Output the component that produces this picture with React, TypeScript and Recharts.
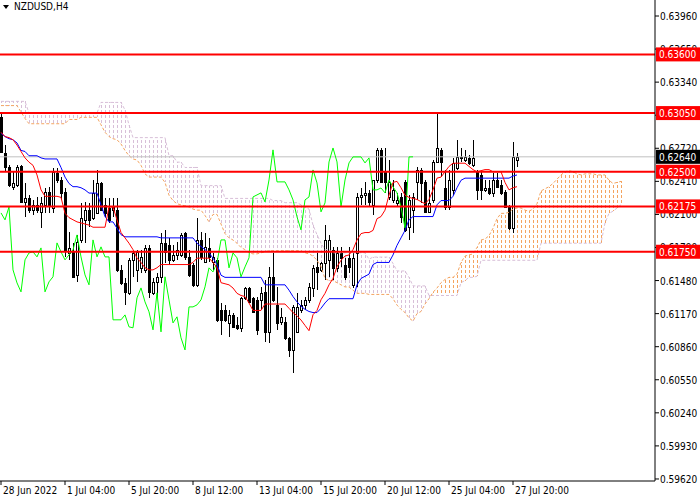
import React from 'react';
import { ComposedChart, Bar, Line, XAxis, YAxis, ReferenceLine } from 'recharts';

// NZDUSD H4 candles, oldest first
const opens = [
  0.63014, 0.62676, 0.62545, 0.62358, 0.62377, 0.62555, 0.62217, 0.62255, 0.62142, 0.62189,
  0.62124, 0.62189, 0.62311, 0.62161, 0.62489, 0.62423, 0.62311, 0.61739, 0.61749, 0.61533,
  0.61861, 0.62049, 0.62142, 0.62067, 0.62114, 0.62395, 0.62189, 0.62161, 0.62142, 0.62142,
  0.6158, 0.61458, 0.61365, 0.61674, 0.6158, 0.61599, 0.6158, 0.61786, 0.61365, 0.61468,
  0.61515, 0.61833, 0.61814, 0.61674, 0.61721, 0.61721, 0.61927, 0.61702, 0.61627, 0.6144,
  0.61861, 0.61655, 0.61786, 0.61655, 0.61674, 0.61205, 0.61205, 0.61083, 0.61158, 0.61065,
  0.61037, 0.61318, 0.61411, 0.61318, 0.61299, 0.61299, 0.61374, 0.60999, 0.61515, 0.61252,
  0.61093, 0.61093, 0.60943, 0.6083, 0.60999, 0.61205, 0.61252, 0.61299, 0.61411, 0.61608,
  0.6158, 0.61646, 0.61674, 0.61768, 0.61599, 0.61739, 0.61627, 0.61693, 0.6144, 0.61739,
  0.62264, 0.62283, 0.62302, 0.62189, 0.62423, 0.62705, 0.62498, 0.62264, 0.62236, 0.62208,
  0.62264, 0.62405, 0.61983, 0.62142, 0.62405, 0.62517, 0.62405, 0.62124, 0.62236, 0.62592,
  0.62705, 0.62348, 0.6217, 0.6233, 0.62536, 0.6263, 0.62611, 0.6263, 0.62564, 0.62498,
  0.6247, 0.6233, 0.62348, 0.62302, 0.62423, 0.62377, 0.62311, 0.6217, 0.61974, 0.62611,
];
const highs = [
  0.63051, 0.62751, 0.62564, 0.62498, 0.62564, 0.62564, 0.62395, 0.62283, 0.62236, 0.62264,
  0.62264, 0.62348, 0.62358, 0.62536, 0.62536, 0.62452, 0.62348, 0.61936, 0.61833, 0.61908,
  0.62208, 0.62217, 0.62208, 0.62423, 0.62517, 0.62405, 0.62255, 0.62255, 0.62255, 0.62255,
  0.61627, 0.61505, 0.61693, 0.61749, 0.61768, 0.61768, 0.61814, 0.61814, 0.61505, 0.61552,
  0.61927, 0.61955, 0.6188, 0.61814, 0.61843, 0.61927, 0.61936, 0.61768, 0.61646, 0.62067,
  0.61936, 0.61927, 0.6188, 0.61739, 0.61693, 0.61271, 0.61252, 0.61205, 0.61177, 0.6114,
  0.61327, 0.61421, 0.61421, 0.61327, 0.61327, 0.61421, 0.61486, 0.61608, 0.61739, 0.61421,
  0.61224, 0.6114, 0.60952, 0.61252, 0.61365, 0.61299, 0.61327, 0.61458, 0.61627, 0.61739,
  0.61655, 0.62002, 0.61908, 0.61796, 0.61796, 0.61796, 0.61693, 0.61796, 0.61739, 0.62302,
  0.62348, 0.62405, 0.6233, 0.62423, 0.62723, 0.62723, 0.62723, 0.62611, 0.62423, 0.62302,
  0.62302, 0.62423, 0.62283, 0.62302, 0.62545, 0.62536, 0.62423, 0.6233, 0.62611, 0.63051,
  0.62723, 0.62517, 0.62517, 0.6263, 0.62798, 0.62723, 0.62705, 0.62658, 0.62798, 0.62517,
  0.62498, 0.62423, 0.62423, 0.62489, 0.62489, 0.62423, 0.6233, 0.62189, 0.62779, 0.62676,
];
const lows = [
  0.62676, 0.62498, 0.62358, 0.6233, 0.62358, 0.62208, 0.62077, 0.62114, 0.62095, 0.62114,
  0.61974, 0.62114, 0.62114, 0.62114, 0.62395, 0.62236, 0.61702, 0.61674, 0.61505, 0.61468,
  0.61833, 0.61833, 0.61983, 0.62049, 0.62114, 0.62142, 0.62077, 0.62021, 0.62077, 0.61561,
  0.6144, 0.61252, 0.61346, 0.61515, 0.61468, 0.61552, 0.61552, 0.61318, 0.61346, 0.61327,
  0.61458, 0.61646, 0.61627, 0.61655, 0.61674, 0.61702, 0.61674, 0.61515, 0.61421, 0.61421,
  0.61674, 0.61646, 0.61655, 0.6158, 0.61093, 0.60971, 0.61093, 0.60952, 0.61037, 0.61018,
  0.60999, 0.61299, 0.61271, 0.61177, 0.60971, 0.61205, 0.60905, 0.60896, 0.6128, 0.61018,
  0.61065, 0.60924, 0.60765, 0.60615, 0.6099, 0.61177, 0.61205, 0.61271, 0.61327, 0.61393,
  0.61561, 0.61486, 0.61515, 0.61486, 0.61561, 0.61608, 0.61486, 0.61552, 0.61411, 0.61421,
  0.62189, 0.62189, 0.6217, 0.62095, 0.62395, 0.62395, 0.62302, 0.62236, 0.62208, 0.6217,
  0.62021, 0.61936, 0.61861, 0.61927, 0.62236, 0.62208, 0.62114, 0.62114, 0.62208, 0.62583,
  0.62452, 0.62142, 0.62142, 0.62283, 0.62517, 0.62592, 0.62592, 0.62564, 0.62545, 0.62236,
  0.62236, 0.62311, 0.62283, 0.62264, 0.62348, 0.62283, 0.62161, 0.61955, 0.61927, 0.62545,
];
const closes = [
  0.62686, 0.62545, 0.62377, 0.62395, 0.62545, 0.62217, 0.62255, 0.62142, 0.62189, 0.62142,
  0.62208, 0.62311, 0.62189, 0.62498, 0.62423, 0.62302, 0.61768, 0.61786, 0.61515, 0.61843,
  0.62067, 0.62142, 0.62049, 0.62302, 0.62395, 0.62142, 0.62114, 0.62049, 0.6217, 0.6158,
  0.61458, 0.61374, 0.61674, 0.61739, 0.61749, 0.61702, 0.61786, 0.61374, 0.61468, 0.61515,
  0.61833, 0.61749, 0.61674, 0.61721, 0.61768, 0.61908, 0.61702, 0.61533, 0.6144, 0.61861,
  0.61702, 0.61796, 0.61702, 0.61702, 0.61112, 0.61112, 0.61112, 0.61158, 0.61046, 0.61037,
  0.61318, 0.61411, 0.6128, 0.61187, 0.61018, 0.61365, 0.60999, 0.61515, 0.61299, 0.61083,
  0.6114, 0.60943, 0.6083, 0.61233, 0.61233, 0.61252, 0.61299, 0.61421, 0.61599, 0.61561,
  0.61646, 0.61861, 0.61861, 0.61599, 0.61739, 0.61693, 0.61515, 0.61608, 0.61693, 0.62264,
  0.62283, 0.62302, 0.62217, 0.62423, 0.62705, 0.62405, 0.62405, 0.62405, 0.6233, 0.62236,
  0.62077, 0.61955, 0.62236, 0.62264, 0.62517, 0.62395, 0.62124, 0.62208, 0.62592, 0.62723,
  0.62592, 0.6217, 0.62423, 0.62583, 0.62639, 0.62639, 0.62639, 0.62583, 0.6263, 0.6233,
  0.6233, 0.62348, 0.62302, 0.62423, 0.62358, 0.62302, 0.6217, 0.61974, 0.62639, 0.6264,
];

// Ichimoku lines
const tenkan = [
  0.6287, 0.6283, 0.6282, 0.628, 0.6275, 0.6269, 0.6263, 0.6259, 0.6256, 0.6247,
  0.6233, 0.6227, 0.6227, 0.6227, 0.6227, 0.6226, 0.6211, 0.6207, 0.6205, 0.6203,
  0.6202, 0.6201, 0.62, 0.6198, 0.6198, 0.6198, 0.6198, 0.6217, 0.6217, 0.6205,
  0.6193, 0.6188, 0.6183, 0.6177, 0.6169, 0.6165, 0.616, 0.6158, 0.6158, 0.616,
  0.6163, 0.6163, 0.6163, 0.6163, 0.6163, 0.6163, 0.6163, 0.6163, 0.6165, 0.6169,
  0.6169, 0.6169, 0.6169, 0.6165, 0.616, 0.6146, 0.6145, 0.6144, 0.6141, 0.6136,
  0.6134, 0.6133, 0.6127, 0.612, 0.612, 0.612, 0.6126, 0.6126, 0.6126, 0.6126,
  0.6126, 0.6126, 0.6122, 0.6118, 0.6115, 0.6111, 0.6106, 0.6101, 0.6116, 0.612,
  0.613, 0.6136, 0.6144, 0.615, 0.6161, 0.6167, 0.6171, 0.6172, 0.6177, 0.6186,
  0.6192, 0.6193, 0.6193, 0.6195, 0.6206, 0.6208, 0.6214, 0.6228, 0.624, 0.6241,
  0.6235, 0.6228, 0.6226, 0.6225, 0.6224, 0.6222, 0.622, 0.6224, 0.6233, 0.6244,
  0.6245, 0.625, 0.6255, 0.6258, 0.6258, 0.6258, 0.6258, 0.6255, 0.6252, 0.625,
  0.6251, 0.6252, 0.6252, 0.625, 0.625, 0.625, 0.624, 0.6233, 0.6235, 0.6236,
];
const kijun = [
  0.6286, 0.6283, 0.6281, 0.628, 0.6277, 0.627, 0.6269, 0.6265, 0.6265, 0.6265,
  0.6263, 0.6262, 0.6262, 0.6262, 0.6262, 0.6254, 0.6245, 0.6239, 0.6236, 0.6236,
  0.6235, 0.6233, 0.623, 0.623, 0.623, 0.6219, 0.6208, 0.6203, 0.6203, 0.6197,
  0.6191, 0.6189, 0.6189, 0.6189, 0.6189, 0.6189, 0.6189, 0.6189, 0.6189, 0.6189,
  0.6188, 0.6188, 0.6188, 0.6188, 0.6188, 0.6188, 0.6188, 0.6188, 0.6188, 0.6183,
  0.618, 0.6177, 0.6174, 0.6169, 0.6163, 0.6153, 0.6151, 0.6151, 0.6151, 0.6151,
  0.6151, 0.6151, 0.6151, 0.6151, 0.6151, 0.6151, 0.6144, 0.6144, 0.6144, 0.6144,
  0.6144, 0.6144, 0.6139, 0.6133, 0.6128, 0.6124, 0.6121, 0.6119, 0.6118, 0.6118,
  0.6122, 0.6127, 0.6131, 0.6131, 0.6131, 0.6131, 0.6131, 0.6131, 0.6131, 0.6144,
  0.615, 0.6152, 0.6154, 0.6163, 0.6165, 0.6165, 0.6165, 0.6165, 0.6172, 0.6181,
  0.6188, 0.6195, 0.6205, 0.6208, 0.6208, 0.6208, 0.6208, 0.6208, 0.6208, 0.6219,
  0.6223, 0.6223, 0.6223, 0.6227, 0.6235, 0.6242, 0.6244, 0.6244, 0.6244, 0.6244,
  0.6244, 0.6244, 0.6244, 0.6244, 0.6244, 0.6244, 0.6244, 0.6244, 0.6246, 0.6247,
];
// Senkou spans run 26 bars past the last candle
const spanA = [
  0.6312, 0.6312, 0.6312, 0.6312, 0.6312, 0.6306, 0.63, 0.6295, 0.6295, 0.6295,
  0.6295, 0.6295, 0.6295, 0.6295, 0.6295, 0.6295, 0.6295, 0.6299, 0.6299, 0.6299,
  0.6301, 0.6301, 0.6301, 0.6301, 0.6301, 0.6294, 0.6287, 0.6283, 0.6281, 0.628,
  0.6276, 0.627, 0.6265, 0.6262, 0.6261, 0.6256, 0.6248, 0.6245, 0.6245, 0.6245,
  0.6245, 0.624, 0.6228, 0.6223, 0.622, 0.6219, 0.6218, 0.6217, 0.6215, 0.6214,
  0.6214, 0.6209, 0.6203, 0.621, 0.621, 0.6201, 0.6192, 0.6188, 0.6186, 0.6183,
  0.6179, 0.6177, 0.6174, 0.6173, 0.6173, 0.6174, 0.6175, 0.6176, 0.6176, 0.6176,
  0.6176, 0.6176, 0.6176, 0.6176, 0.6176, 0.6176, 0.6174, 0.6173, 0.6171, 0.6167,
  0.6161, 0.615, 0.6148, 0.6148, 0.6146, 0.6144, 0.6142, 0.6142, 0.6139, 0.6136,
  0.6136, 0.6136, 0.6135, 0.6135, 0.6135, 0.6135, 0.6135, 0.6135, 0.6131, 0.6125,
  0.6121, 0.6118, 0.6113, 0.611, 0.6117, 0.6119, 0.6126, 0.6131, 0.6137, 0.6141,
  0.6146, 0.6149, 0.6151, 0.6151, 0.6154, 0.6165, 0.6171, 0.6172, 0.6173, 0.6179,
  0.6186, 0.6187, 0.619, 0.6197, 0.6206, 0.6211, 0.6211, 0.6212, 0.6215, 0.6216,
  0.6216, 0.6214, 0.6213, 0.6215, 0.622, 0.6232, 0.6234, 0.6236, 0.6239, 0.6243,
  0.6247, 0.625, 0.6251, 0.625, 0.6248, 0.6247, 0.6248, 0.6248, 0.6248, 0.6247,
  0.6247, 0.6247, 0.6242, 0.6239, 0.624, 0.6241,
];
const spanB = [
  0.6316, 0.6316, 0.6316, 0.6316, 0.6316, 0.6316, 0.6316, 0.6305, 0.6305, 0.6305,
  0.6305, 0.6305, 0.6305, 0.6305, 0.6305, 0.6305, 0.6305, 0.6305, 0.6305, 0.6305,
  0.6305, 0.6305, 0.6305, 0.6305, 0.6305, 0.6315, 0.6315, 0.6315, 0.6315, 0.6315,
  0.6315, 0.6308, 0.6294, 0.6282, 0.6282, 0.6282, 0.6282, 0.6282, 0.6282, 0.6282,
  0.6282, 0.6282, 0.6265, 0.6265, 0.6259, 0.6259, 0.6254, 0.6254, 0.6254, 0.6254,
  0.6237, 0.6237, 0.6237, 0.6237, 0.6237, 0.6237, 0.6225, 0.6225, 0.6225, 0.6225,
  0.6225, 0.6225, 0.6225, 0.6225, 0.6225, 0.6225, 0.6225, 0.6225, 0.6223, 0.6223,
  0.6223, 0.6221, 0.6221, 0.6221, 0.6221, 0.6219, 0.6217, 0.6215, 0.62, 0.6191,
  0.6183, 0.6177, 0.6177, 0.6174, 0.6174, 0.6174, 0.6174, 0.6174, 0.6174, 0.6174,
  0.6174, 0.6174, 0.6168, 0.617, 0.617, 0.617, 0.617, 0.617, 0.6164, 0.6157,
  0.6157, 0.6157, 0.6151, 0.6143, 0.6143, 0.6143, 0.6143, 0.6134, 0.6134, 0.6134,
  0.6134, 0.6134, 0.6134, 0.6134, 0.6134, 0.6146, 0.6148, 0.6151, 0.6151, 0.6152,
  0.6167, 0.6167, 0.6167, 0.6167, 0.6167, 0.6167, 0.6167, 0.6167, 0.6167, 0.6167,
  0.6167, 0.6167, 0.6167, 0.6167, 0.6167, 0.6183, 0.6183, 0.6183, 0.6183, 0.6183,
  0.6183, 0.6183, 0.6183, 0.6183, 0.6183, 0.6183, 0.6183, 0.6183, 0.6183, 0.6183,
  0.6183, 0.6202, 0.6211, 0.6213, 0.6216, 0.6219,
];

const tickIndex = [0, 16, 32, 48, 64, 80, 96, 112, 128];
const tickLabels = [
  '28 Jun 2022', '1 Jul 04:00', '5 Jul 20:00', '8 Jul 12:00', '13 Jul 04:00',
  '15 Jul 20:00', '20 Jul 12:00', '25 Jul 04:00', '27 Jul 20:00',
];
const priceTicks = [
  0.5962, 0.5993, 0.6024, 0.6055, 0.6086, 0.6117, 0.6148, 0.6179,
  0.621, 0.6241, 0.6272, 0.6303, 0.6334, 0.6365, 0.6396,
];
const levels = [0.636, 0.6305, 0.625, 0.62175, 0.6175];
const lastPrice = 0.6264;

const SLOTS = 164;
const CHIKOU_SHIFT = 26;
const FONT = "'DejaVu Sans Condensed', 'DejaVu Sans', sans-serif";

const rows = Array.from({ length: SLOTS }, (_, i) => {
  const a = spanA[i];
  const b = spanB[i];
  return {
    i,
    hl: i < opens.length ? [lows[i], highs[i]] : null,
    o: opens[i],
    c: closes[i],
    tenkan: tenkan[i] ?? null,
    kijun: kijun[i] ?? null,
    chikou: closes[i + CHIKOU_SHIFT] ?? null,
    spanA: a ?? null,
    spanB: b ?? null,
    cloud: a !== undefined ? [Math.min(a, b), Math.max(a, b)] : null,
  };
});

function Candle(props: any) {
  const { x, y, width, height, payload } = props;
  if (!payload || !payload.hl) return null;
  const [lo, hi] = payload.hl;
  const top = Math.min(y, y + height);
  const bot = Math.max(y, y + height);
  const k = hi > lo ? (bot - top) / (hi - lo) : 0;
  const py = (p: number) => top + (hi - p) * k;
  const cx = Math.floor(x + width / 2) + 0.5;
  const yo = Math.round(py(payload.o));
  const yc = Math.round(py(payload.c));
  const bTop = Math.min(yo, yc);
  const bH = Math.max(Math.abs(yo - yc), 1);
  const up = payload.c >= payload.o;
  return (
    <g shapeRendering="crispEdges">
      <line x1={cx} x2={cx} y1={Math.round(top)} y2={Math.round(bot)} stroke="#000" />
      {up ? (
        <rect x={cx - 1} y={bTop + 0.5} width={2} height={bH} fill="#fff" stroke="#000" />
      ) : (
        <rect x={cx - 1.5} y={bTop} width={3} height={bH + 1} fill="#000" />
      )}
    </g>
  );
}

// one dashed vertical stroke per bar, like the terminal's cloud hatching
function CloudHatch(props: any) {
  const { x, y, width, height, payload } = props;
  if (!payload || !payload.cloud) return null;
  const top = Math.round(Math.min(y, y + height));
  const bot = Math.round(Math.max(y, y + height));
  if (bot - top < 1) return null;
  const cx = Math.floor(x + width / 2) + 0.5;
  const color = payload.spanA >= payload.spanB ? '#f4a460' : '#d8bfd8';
  return (
    <line
      x1={cx}
      x2={cx}
      y1={top}
      y2={bot}
      stroke={color}
      strokeDasharray="3 2"
      strokeDashoffset={top % 5}
      shapeRendering="crispEdges"
    />
  );
}

function PriceTick(props: any) {
  const { x, y, payload } = props;
  const v = payload.value;
  const isLevel = levels.includes(v);
  const isLast = v === lastPrice;
  if (isLevel || isLast) {
    return (
      <g>
        <rect x={x + 1} y={y - 7} width={44} height={14} fill={isLast ? '#000' : '#ff0000'} />
        <text x={x + 4} y={y + 4} fontSize={10} fontFamily={FONT} fill="#fff">
          {v.toFixed(5)}
        </text>
      </g>
    );
  }
  return (
    <g>
      <line x1={x} x2={x + 4} y1={y} y2={y} stroke="#000" />
      <text x={x + 5} y={y + 4} fontSize={10} fontFamily={FONT} fill="#000">
        {v.toFixed(5)}
      </text>
    </g>
  );
}

function DateTick(props: any) {
  const { x, y, payload } = props;
  const k = tickIndex.indexOf(payload.value);
  if (k < 0) return null;
  return (
    <g>
      <line x1={x} x2={x} y1={y} y2={y + 4} stroke="#000" />
      <text x={x + 2} y={y + 13} fontSize={10} fontFamily={FONT} fill="#000">
        {tickLabels[k]}
      </text>
    </g>
  );
}

export default function App() {
  return (
    <div style={{ position: 'absolute', left: -1, top: 0, width: 701, height: 500, background: '#fff' }}>
      <ComposedChart width={701} height={500} data={rows} margin={{ top: 0, right: 0, bottom: 0, left: 0 }}>
        <XAxis
          dataKey="i"
          type="category"
          interval={15}
          height={19}
          tickSize={0}
          tickMargin={0}
          tickLine={false}
          axisLine={{ stroke: '#000' }}
          tick={(p: any) => <DateTick {...p} />}
        />
        <XAxis xAxisId="cloud" dataKey="i" type="category" hide />
        <YAxis
          orientation="right"
          type="number"
          domain={[0.59601, 0.6411]}
          allowDataOverflow
          ticks={[...priceTicks, ...levels, lastPrice]}
          interval={0}
          width={45}
          tickSize={0}
          tickMargin={0}
          tickLine={false}
          axisLine={{ stroke: '#000' }}
          tick={(p: any) => <PriceTick {...p} />}
        />
        <Bar xAxisId="cloud" dataKey="cloud" barSize={3} shape={(p: any) => <CloudHatch {...p} />} isAnimationActive={false} />
        <Line dataKey="spanB" stroke="#d8bfd8" strokeDasharray="3 2" dot={false} activeDot={false} isAnimationActive={false} />
        <Line dataKey="spanA" stroke="#f4a460" strokeDasharray="3 2" dot={false} activeDot={false} isAnimationActive={false} />
        <ReferenceLine y={lastPrice} stroke="#c0c0c0" />
        <Bar dataKey="hl" barSize={3} shape={(p: any) => <Candle {...p} />} isAnimationActive={false} />
        <Line dataKey="chikou" stroke="#00ff00" dot={false} activeDot={false} isAnimationActive={false} />
        <Line dataKey="kijun" stroke="#0000ff" dot={false} activeDot={false} isAnimationActive={false} />
        <Line dataKey="tenkan" stroke="#ff0000" dot={false} activeDot={false} isAnimationActive={false} />
        {levels.map((v) => (
          <ReferenceLine key={v} y={v} stroke="#ff0000" strokeWidth={2} />
        ))}
      </ComposedChart>
      <div style={{ position: 'absolute', left: 4, top: 1, display: 'flex', alignItems: 'center', fontFamily: FONT, fontSize: 10, color: '#000' }}>
        <svg width="6" height="4" style={{ marginRight: 5 }}>
          <polygon points="0,0 6,0 3,4" fill="#000" />
        </svg>
        NZDUSD,H4
      </div>
    </div>
  );
}
